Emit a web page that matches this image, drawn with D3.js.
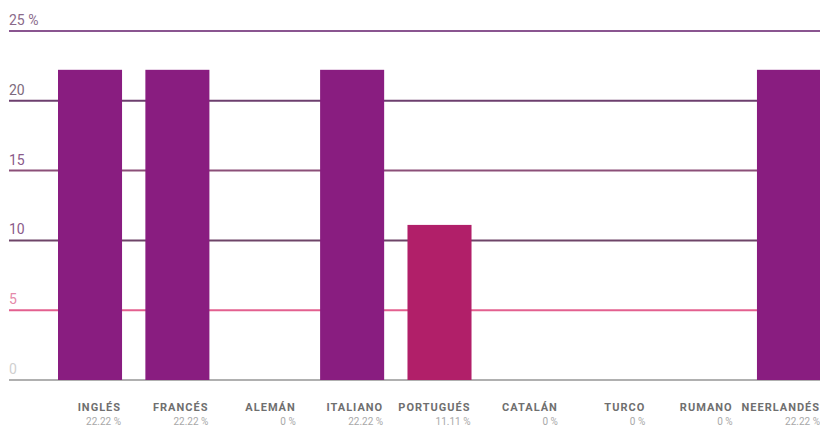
<!DOCTYPE html>
<html>
<head>
<meta charset="utf-8">
<script src="https://cdn.jsdelivr.net/npm/d3@7"></script>
<style>
  html, body { margin: 0; padding: 0; background: #fff; }
  svg { display: block; }
</style>
</head>
<body>
<svg id="chart" width="820" height="427"></svg>
<script>
// Share of each language (percent)
const categories = ["INGLÉS", "FRANCÉS", "ALEMÁN", "ITALIANO", "PORTUGUÉS", "CATALÁN", "TURCO", "RUMANO", "NEERLANDÉS"];
const values = [22.22, 22.22, 0, 22.22, 11.11, 0, 0, 0, 22.22];
const valueLabels = ["22.22 %", "22.22 %", "0 %", "22.22 %", "11.11 %", "0 %", "0 %", "0 %", "22.22 %"];
const tickValues = [0, 5, 10, 15, 20, 25];
const tickLabels = ["0", "5", "10", "15", "20", "25 %"];

// Styling per gridline / bar
const gridColors = { 0: "#b0b0b0", 5: "#e3608f", 10: "#6e4468", 15: "#8b4f78", 20: "#6d3f6e", 25: "#8a5590" };
const tickTextColors = { 0: "#d0d0d0", 5: "#e58aaa", 10: "#8a5a8a", 15: "#8a5a8a", 20: "#7d6a7d", 25: "#8a6a8a" };
const barColor = "#891d80";
const highlightColor = "#b11f69";

const svg = d3.select("#chart");
const left = 9, right = 820;

const y = d3.scaleLinear().domain([0, 25]).range([380, 31]);
const x = d3.scaleBand().domain(categories).range([58, 821]).paddingInner(0.267).paddingOuter(0);

// Gridlines
svg.append("g").selectAll("line")
  .data(tickValues)
  .join("line")
  .attr("x1", left).attr("x2", right)
  .attr("y1", d => y(d)).attr("y2", d => y(d))
  .attr("stroke", d => gridColors[d])
  .attr("stroke-width", 2);

// Tick labels above each gridline
svg.append("g").selectAll("text")
  .data(tickValues)
  .join("text")
  .attr("x", left)
  .attr("y", d => y(d) - 6)
  .attr("fill", d => tickTextColors[d])
  .attr("font-family", "Roboto, sans-serif")
  .attr("font-size", 14)
  .text((d, i) => tickLabels[i]);

// Bars
svg.append("g").selectAll("rect")
  .data(categories.map((c, i) => ({ c, v: values[i] })))
  .join("rect")
  .attr("x", d => x(d.c))
  .attr("width", x.bandwidth())
  .attr("y", d => y(d.v))
  .attr("height", d => y(0) - y(d.v))
  .attr("fill", d => d.c === "PORTUGUÉS" ? highlightColor : barColor);

// Category names and values
const lab = svg.append("g").selectAll("g")
  .data(categories)
  .join("g")
  .attr("transform", d => `translate(${x(d) + x.bandwidth() - 1},0)`);

lab.append("text")
  .attr("y", 411)
  .attr("text-anchor", "end")
  .attr("fill", "#6f6f6f")
  .attr("font-family", "Roboto, sans-serif")
  .attr("font-weight", "bold")
  .attr("font-size", 11)
  .attr("letter-spacing", 1)
  .text(d => d);

lab.append("text")
  .attr("y", 425)
  .attr("text-anchor", "end")
  .attr("fill", "#a8a8a8")
  .attr("font-family", "Roboto, sans-serif")
  .attr("font-size", 10)
  .text((d, i) => valueLabels[i]);
</script>
</body>
</html>
